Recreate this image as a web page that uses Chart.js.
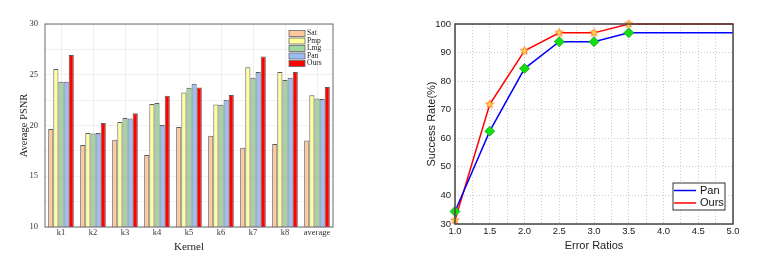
<!DOCTYPE html>
<html>
<head>
<meta charset="utf-8">
<script src="https://cdn.jsdelivr.net/npm/chart.js@4.4.0/dist/chart.umd.min.js"></script>
<style>
html, body { margin: 0; padding: 0; background: #fff; }
#psnrChart { position: absolute; left: 0; top: 0; }
#rateChart { position: absolute; left: 385px; top: 0; }
</style>
</head>
<body>
<canvas id="psnrChart" width="345" height="261"></canvas>
<canvas id="rateChart" width="384" height="261"></canvas>
<script>
// left chart: average PSNR per kernel
var kernels  = ['k1', 'k2', 'k3', 'k4', 'k5', 'k6', 'k7', 'k8', 'average'];
var satPsnr  = [19.66, 18.08, 18.60, 17.09, 19.85, 19.00, 17.81, 18.18, 18.53];
var pmpPsnr  = [25.57, 19.26, 20.35, 22.12, 23.26, 22.08, 25.73, 25.27, 22.97];
var lmgPsnr  = [24.32, 19.20, 20.74, 22.22, 23.72, 22.05, 24.71, 24.48, 22.67];
var panPsnr  = [24.32, 19.26, 20.68, 20.05, 24.12, 22.54, 25.27, 24.71, 22.61];
var oursPsnr = [26.95, 20.25, 21.20, 22.94, 23.75, 23.00, 26.81, 25.27, 23.79];

// right chart: success rate vs error ratio
var errorRatios = [1.0, 1.5, 2.0, 2.5, 3.0, 3.5, 5.0];
var panRate  = [34.4, 62.5, 84.4, 93.8, 93.8, 96.9, 96.9];
var oursRate = [31.3, 71.9, 90.6, 96.9, 96.9, 100, 100];

Chart.defaults.animation = false;

var frameBox = {
    id: 'frameBox',
    afterDatasetsDraw: function(chart, args, opts) {
        var a = chart.chartArea, c = chart.ctx;
        c.save();
        c.strokeStyle = opts.color;
        c.lineWidth = opts.width;
        c.strokeRect(a.left, a.top, a.right - a.left, a.bottom - a.top);
        c.restore();
    }
};

var barLegend = {
    id: 'barLegend',
    afterDraw: function(chart) {
        var a = chart.chartArea, c = chart.ctx;
        var x = a.right - 44, y = a.top + 6.5;
        c.save();
        c.font = '7.5px "Liberation Serif"';
        c.textBaseline = 'middle';
        chart.data.datasets.forEach(function(ds, i) {
            var yy = y + i * 7.5;
            c.fillStyle = ds.backgroundColor;
            c.fillRect(x, yy, 16, 6);
            c.strokeStyle = '#666';
            c.lineWidth = 0.8;
            c.strokeRect(x, yy, 16, 6);
            c.fillStyle = '#222';
            c.fillText(ds.label, x + 18, yy + 3);
        });
        c.restore();
    }
};

var lineLegend = {
    id: 'lineLegend',
    afterDraw: function(chart) {
        var a = chart.chartArea, c = chart.ctx;
        var w = 52, h = 27;
        var x = a.right - 8 - w, y = a.bottom - 14 - h;
        c.save();
        c.fillStyle = '#fff';
        c.fillRect(x, y, w, h);
        c.strokeStyle = '#333';
        c.lineWidth = 1;
        c.strokeRect(x, y, w, h);
        c.font = '11px "Liberation Sans"';
        c.textBaseline = 'middle';
        chart.data.datasets.forEach(function(ds, i) {
            var yy = y + 7.5 + i * 12.5;
            c.strokeStyle = ds.borderColor;
            c.lineWidth = 1.5;
            c.beginPath();
            c.moveTo(x + 1, yy);
            c.lineTo(x + 23, yy);
            c.stroke();
            c.fillStyle = '#111';
            c.fillText(ds.label, x + 27, yy);
        });
        c.restore();
    }
};

function makeStar(r) {
    var s = Math.ceil(r * 2 + 2);
    var cv = document.createElement('canvas');
    cv.width = s; cv.height = s;
    var g = cv.getContext('2d');
    g.beginPath();
    for (var i = 0; i < 10; i++) {
        var rr = i % 2 === 0 ? r : r * 0.45;
        var ang = -Math.PI / 2 + i * Math.PI / 5;
        var px = s / 2 + rr * Math.cos(ang), py = s / 2 + rr * Math.sin(ang);
        if (i === 0) g.moveTo(px, py); else g.lineTo(px, py);
    }
    g.closePath();
    g.fillStyle = '#ffdc55';
    g.fill();
    g.strokeStyle = '#ff7a1a';
    g.lineWidth = 1;
    g.stroke();
    return cv;
}

var serif = '"Liberation Serif", "Times New Roman", serif';
var sans = '"Liberation Sans", Arial, sans-serif';

function bars(label, data, color) {
    return {
        label: label,
        data: data,
        backgroundColor: color,
        borderColor: '#5a5a5a',
        borderWidth: 1,
        categoryPercentage: 0.8,
        barPercentage: 1.0
    };
}

var ctx = document.getElementById('psnrChart').getContext('2d');
var psnrChart = new Chart(ctx, {
    type: 'bar',
    data: {
        labels: kernels,
        datasets: [
            bars('Sat', satPsnr, '#fcc89c'),
            bars('Pmp', pmpPsnr, '#ffff9c'),
            bars('Lmg', lmgPsnr, '#9fd89f'),
            bars('Pan', panPsnr, '#9cbcf2'),
            bars('Ours', oursPsnr, '#ff0000')
        ]
    },
    plugins: [frameBox, barLegend],
    options: {
        responsive: false,
        layout: { padding: { top: 24, right: 12, left: 0, bottom: 0 } },
        plugins: {
            legend: { display: false },
            tooltip: { enabled: false },
            frameBox: { color: '#6a6a6a', width: 1 }
        },
        scales: {
            x: {
                grid: { color: '#efefef', offset: false, drawTicks: false },
                border: { display: false },
                ticks: { color: '#333', padding: 1, autoSkip: false, minRotation: 0, maxRotation: 0,
                         font: { family: serif, size: 8.5 } },
                title: { display: true, text: 'Kernel', color: '#222',
                         font: { family: serif, size: 11 }, padding: { top: 0, bottom: 7 } },
                afterFit: function(s) { s.height = 34; }
            },
            y: {
                min: 10,
                max: 30,
                grid: { color: '#f0f0f0', drawTicks: false },
                border: { display: false },
                ticks: {
                    stepSize: 2.5,
                    color: '#333',
                    padding: 7,
                    font: { family: serif, size: 8.5 },
                    callback: function(v) { return v % 5 === 0 ? v : ''; }
                },
                title: { display: true, text: 'Average PSNR', color: '#222',
                         font: { family: serif, size: 10.5 }, padding: { top: 18, bottom: 0 } },
                afterFit: function(s) { s.width = 45; }
            }
        }
    }
});

var ctxRate = document.getElementById('rateChart').getContext('2d');
var rateChart = new Chart(ctxRate, {
    type: 'line',
    data: {
        datasets: [
            {
                label: 'Pan',
                data: errorRatios.map(function(x, i) { return { x: x, y: panRate[i] }; }),
                borderColor: '#0000ff',
                borderWidth: 1.5,
                pointStyle: 'rectRot',
                pointRadius: [5, 5, 5, 5, 5, 5, 0],
                pointBackgroundColor: '#10e010',
                pointBorderColor: '#2a9a2a',
                pointBorderWidth: 0.8,
                clip: false
            },
            {
                label: 'Ours',
                data: errorRatios.map(function(x, i) { return { x: x, y: oursRate[i] }; }),
                borderColor: '#ff0000',
                borderWidth: 1.5,
                pointStyle: makeStar(4.2),
                pointRadius: [5, 5, 5, 5, 5, 5, 0],
                clip: false
            }
        ]
    },
    plugins: [frameBox, lineLegend],
    options: {
        responsive: false,
        layout: { padding: { top: 24, right: 36, left: 0, bottom: 0 } },
        plugins: {
            legend: { display: false },
            tooltip: { enabled: false },
            frameBox: { color: '#444', width: 1.5 }
        },
        scales: {
            x: {
                type: 'linear',
                min: 1,
                max: 5,
                grid: { color: '#cccccc', drawTicks: false },
                border: { display: false, dash: [1, 2] },
                ticks: {
                    stepSize: 0.25,
                    autoSkip: false,
                    maxRotation: 0,
                    color: '#222',
                    padding: 2,
                    font: { family: sans, size: 9.5 },
                    callback: function(v) { return Math.round(v * 4) % 2 === 0 ? v.toFixed(1) : ''; }
                },
                title: { display: true, text: 'Error Ratios', color: '#222',
                         font: { family: sans, size: 11 }, padding: { top: 0, bottom: 8 } },
                afterFit: function(s) { s.height = 37; }
            },
            y: {
                min: 30,
                max: 100,
                grid: { color: '#cccccc', drawTicks: false },
                border: { display: false, dash: [1, 2] },
                ticks: {
                    stepSize: 5,
                    color: '#222',
                    padding: 4,
                    font: { family: sans, size: 9.5 },
                    callback: function(v) { return v % 10 === 0 ? v : ''; }
                },
                title: { display: true, text: 'Success Rate(%)', color: '#222',
                         font: { family: sans, size: 11 }, padding: { top: 40, bottom: 0 } },
                afterFit: function(s) { s.width = 70; }
            }
        }
    }
});
</script>
</body>
</html>
